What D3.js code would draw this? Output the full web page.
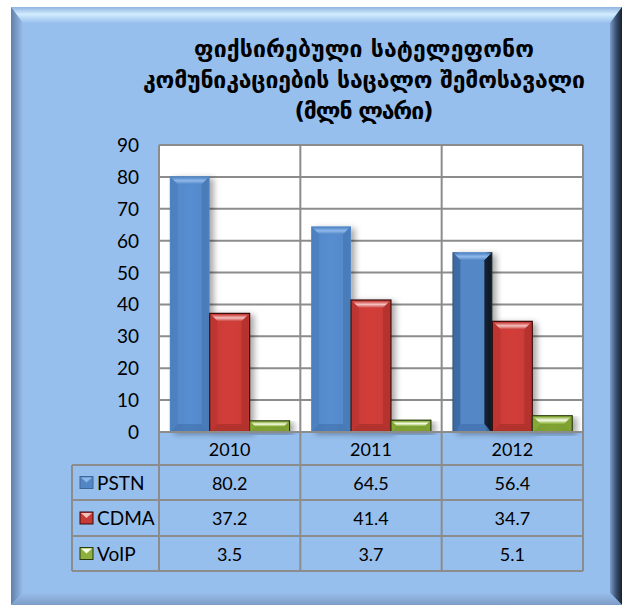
<!DOCTYPE html>
<html>
<head>
<meta charset="utf-8">
<script src="https://cdn.jsdelivr.net/npm/d3@7/dist/d3.min.js"></script>
<style>
  body { margin: 0; background: #fff; }
  svg { display: block; }
</style>
</head>
<body>
<svg id="chart" width="622" height="605"></svg>
<script>
const titleLines = ["ფიქსირებული სატელეფონო", "კომუნიკაციების საცალო შემოსავალი", "(მლნ ლარი)"];
const years = ["2010", "2011", "2012"];
const seriesNames = ["PSTN", "CDMA", "VoIP"];
const pstn = [80.2, 64.5, 56.4];
const cdma = [37.2, 41.4, 34.7];
const voip = [3.5, 3.7, 5.1];
const yTicks = [0, 10, 20, 30, 40, 50, 60, 70, 80, 90];

const seriesValues = [pstn, cdma, voip];
const colors = {
  PSTN: { main: "#5287c6", light: "#8fb8ea", dark: "#3c6aa3", line: "#3e6799" },
  CDMA: { main: "#c83a36", light: "#f4c0be", dark: "#962622", line: "#3a0d0c" },
  VoIP: { main: "#8db13c", light: "#f6fce8", dark: "#6a8a24", line: "#2c3a10" }
};

const svg = d3.select("#chart");
const defs = svg.append("defs");
const font = "Lato, 'Open Sans', sans-serif";
const fs = 18;

// frame gradients
function grad(id, x2, y2, stops) {
  const g = defs.append("linearGradient").attr("id", id)
    .attr("x1", 0).attr("y1", 0).attr("x2", x2).attr("y2", y2);
  stops.forEach(s => g.append("stop").attr("offset", s[0]).attr("stop-color", s[1]));
}
grad("fTop", 0, 1, [[0, "#8fb4df"], [0.45, "#d2ecff"], [1, "#9ac0ee"]]);
grad("fLeft", 1, 0, [[0, "#5f80a8"], [1, "#98bdea"]]);
grad("fRight", 1, 0, [[0, "#7c9ccc"], [0.5, "#3b5272"], [1, "#17202e"]]);
grad("fBottom", 0, 1, [[0, "#98bdea"], [1, "#7d9cc6"]]);

const fx0 = 11, fy0 = 7, fx1 = 622, fy1 = 605, fb = 12;
svg.append("rect").attr("x", fx0).attr("y", fy0).attr("width", fx1 - fx0).attr("height", fy1 - fy0)
  .attr("fill", "#97bfee");
const poly = (pts, fill) => svg.append("polygon").attr("points", pts.map(p => p.join(",")).join(" ")).attr("fill", fill);
poly([[fx0, fy0], [fx1, fy0], [fx1 - fb, fy0 + fb + 4], [fx0 + fb, fy0 + fb + 4]], "url(#fTop)");
poly([[fx0, fy0], [fx0 + fb, fy0 + fb + 4], [fx0 + fb, fy1 - fb], [fx0, fy1]], "url(#fLeft)");
poly([[fx1, fy0], [fx1, fy1], [fx1 - fb, fy1 - fb], [fx1 - fb, fy0 + fb + 4]], "url(#fRight)");
poly([[fx0, fy1], [fx0 + fb, fy1 - fb], [fx1 - fb, fy1 - fb], [fx1, fy1]], "url(#fBottom)");

// title
const titleWidths = [340, 442, 139];
svg.append("g").selectAll("text").data(titleLines).join("text")
  .attr("x", 364).attr("y", (d, i) => 57 + i * 31)
  .attr("text-anchor", "middle")
  .attr("font-family", "'DejaVu Sans', sans-serif")
  .attr("font-weight", "bold")
  .attr("font-size", 23)
  .attr("fill", "#000")
  .attr("textLength", (d, i) => titleWidths[i])
  .attr("lengthAdjust", "spacing")
  .text(d => d);

// scales
const plotLeft = 159, plotRight = 583, plotTop = 145, plotBottom = 432;
const y = d3.scaleLinear().domain([0, 90]).range([plotBottom, plotTop]);
const x = d3.scaleBand().domain(years).range([plotLeft, plotRight]).paddingInner(0).paddingOuter(0);
const xs = d3.scaleBand().domain(seriesNames).range([0, x.bandwidth()]).paddingInner(0).paddingOuter(0.27);

svg.append("rect").attr("x", plotLeft).attr("y", plotTop)
  .attr("width", plotRight - plotLeft).attr("height", plotBottom - plotTop).attr("fill", "#fff");

const gridColor = "#8c8c8c";
svg.append("g").selectAll("line").data(yTicks).join("line")
  .attr("x1", plotLeft).attr("x2", plotRight)
  .attr("y1", d => y(d)).attr("y2", d => y(d))
  .attr("stroke", gridColor).attr("stroke-width", 2);

// table geometry
const tableLeft = 72;
const rowEdges = [plotBottom, 465, 500, 536, 571];
const colEdges = years.map(d => x(d)).concat([plotRight]);

svg.append("g").selectAll("line").data(colEdges).join("line")
  .attr("x1", d => d).attr("x2", d => d)
  .attr("y1", plotTop).attr("y2", rowEdges[4])
  .attr("stroke", gridColor).attr("stroke-width", 2);

// y tick labels
svg.append("g").selectAll("text").data(yTicks).join("text")
  .attr("x", 139).attr("y", d => y(d) + 7)
  .attr("text-anchor", "end")
  .attr("font-family", font).attr("font-size", 19)
  .text(d => d);

// bars
const shadow = defs.append("filter").attr("id", "shadow")
  .attr("x", "-30%").attr("y", "-10%").attr("width", "160%").attr("height", "130%");
shadow.append("feGaussianBlur").attr("in", "SourceAlpha").attr("stdDeviation", 3);
shadow.append("feOffset").attr("dx", 4).attr("dy", 2).attr("result", "b");
shadow.append("feComponentTransfer").append("feFuncA").attr("type", "linear").attr("slope", 0.35);
const m = shadow.append("feMerge");
m.append("feMergeNode");
m.append("feMergeNode").attr("in", "SourceGraphic");

seriesNames.forEach(s => {
  const c = colors[s];
  grad("body" + s, 1, 0, [[0, c.main], [0.5, d3.color(c.main).brighter(0.15)], [1, c.main]]);
  grad("top" + s, 0, 1, [[0, c.main], [0.5, c.light], [1, c.main]]);
});
grad("bodyDark", 1, 0, [[0, "#2f4f7a"], [0.18, "#5287c6"], [0.82, "#5287c6"], [1, "#142236"]]);

const barData = [];
years.forEach((yr, i) => {
  seriesNames.forEach((s, j) => {
    barData.push({ year: yr, series: s, value: seriesValues[j][i], idx: i });
  });
});

const barG = svg.append("g");
barData.forEach(d => {
  const c = colors[d.series];
  const bx = x(d.year) + xs(d.series), bw = xs.bandwidth();
  const by = y(d.value), bh = plotBottom - by;
  const b = Math.min(8, bh / 2, bw / 2);
  const g = barG.append("g").attr("filter", "url(#shadow)");
  const dark = d.series === "PSTN" && d.year === "2012";
  g.append("rect").attr("x", bx).attr("y", by).attr("width", bw).attr("height", bh)
    .attr("fill", dark ? "url(#bodyDark)" : "url(#body" + d.series + ")")
    .attr("stroke", d.series === "PSTN" ? "none" : c.line).attr("stroke-width", 1.2);
  const p = (pts, fill, op) => g.append("polygon")
    .attr("points", pts.map(q => q.join(",")).join(" ")).attr("fill", fill).attr("opacity", op);
  p([[bx + 1, by + 1], [bx + bw - 1, by + 1], [bx + bw - b, by + b], [bx + b, by + b]], "url(#top" + d.series + ")", 1);
  p([[bx + 1, by + 1], [bx + b, by + b], [bx + b, by + bh - b], [bx + 1, by + bh]], c.dark, dark ? 0.9 : 0.25);
  p([[bx + bw - 1, by + 1], [bx + bw - b, by + b], [bx + bw - b, by + bh - b], [bx + bw - 1, by + bh]], dark ? "#0d1622" : c.dark, dark ? 0.9 : 0.4);
  p([[bx + 1, by + bh], [bx + b, by + bh - b], [bx + bw - b, by + bh - b], [bx + bw - 1, by + bh]], c.dark, 0.5);
});

// axis baseline
svg.append("line").attr("x1", plotLeft).attr("x2", plotRight)
  .attr("y1", plotBottom).attr("y2", plotBottom)
  .attr("stroke", gridColor).attr("stroke-width", 2);

// table
const tg = svg.append("g").attr("stroke", gridColor).attr("stroke-width", 2);
rowEdges.slice(1).forEach(r => {
  tg.append("line").attr("x1", tableLeft).attr("x2", plotRight).attr("y1", r).attr("y2", r);
});
tg.append("line").attr("x1", tableLeft).attr("x2", tableLeft).attr("y1", rowEdges[1]).attr("y2", rowEdges[4]);

svg.append("g").selectAll("text").data(years).join("text")
  .attr("x", d => x(d) + x.bandwidth() / 2).attr("y", (rowEdges[0] + rowEdges[1]) / 2 + 7)
  .attr("text-anchor", "middle").attr("font-family", font).attr("font-size", fs)
  .text(d => d);

seriesNames.forEach((s, j) => {
  const cy = (rowEdges[j + 1] + rowEdges[j + 2]) / 2;
  const c = colors[s];
  const ig = svg.append("g");
  ig.append("rect").attr("x", 80).attr("y", cy - 6).attr("width", 13).attr("height", 12)
    .attr("fill", c.main).attr("stroke", c.line).attr("stroke-width", 1);
  ig.append("polygon")
    .attr("points", [[81, cy - 5], [92, cy - 5], [86.5, cy]].map(q => q.join(",")).join(" "))
    .attr("fill", c.light);
  svg.append("text").attr("x", 97).attr("y", cy + 7)
    .attr("font-family", font).attr("font-size", fs + 1).text(s);
  svg.append("g").selectAll("text").data(seriesValues[j]).join("text")
    .attr("x", (d, i) => x(years[i]) + x.bandwidth() / 2).attr("y", cy + 7)
    .attr("text-anchor", "middle").attr("font-family", font).attr("font-size", fs)
    .text(d => d3.format(".1f")(d));
});
</script>
</body>
</html>
